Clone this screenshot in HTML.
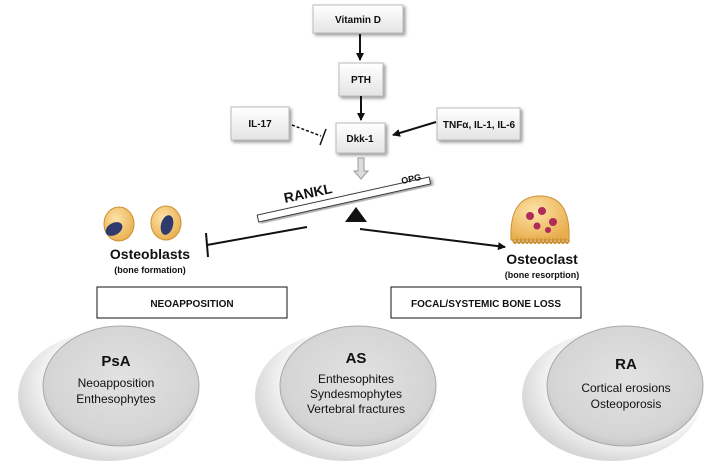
<!DOCTYPE html>
<html><head><meta charset="utf-8"><style>
html,body{margin:0;padding:0;background:#fff;}
svg{display:block;font-family:"Liberation Sans",sans-serif;}
</style></head><body>
<svg width="708" height="464" viewBox="0 0 708 464" xmlns="http://www.w3.org/2000/svg">
<defs>
<linearGradient id="bx" x1="0" y1="0" x2="0" y2="1"><stop offset="0" stop-color="#fff"/><stop offset="1" stop-color="#e4e4e4"/></linearGradient>
<radialGradient id="disc" cx="0.5" cy="0.45" r="0.6"><stop offset="0" stop-color="#e2e2e2"/><stop offset="0.8" stop-color="#d4d4d4"/><stop offset="1" stop-color="#bdbdbd"/></radialGradient>
<radialGradient id="rim" cx="0.6" cy="0.4" r="0.7"><stop offset="0.6" stop-color="#fafafa"/><stop offset="1" stop-color="#c8c8c8"/></radialGradient>
<radialGradient id="cell" cx="0.4" cy="0.35" r="0.7"><stop offset="0" stop-color="#fde3a8"/><stop offset="1" stop-color="#e9ad4c"/></radialGradient>
<marker id="ah" markerWidth="8" markerHeight="8" refX="7" refY="4" orient="auto" markerUnits="userSpaceOnUse"><path d="M0,0 L8,4 L0,8 Z" fill="#111"/></marker>
<filter id="sh" x="-20%" y="-20%" width="150%" height="150%"><feDropShadow dx="2" dy="2" stdDeviation="1.5" flood-color="#999"/></filter>
</defs>
<g font-weight="bold" font-size="10" text-anchor="middle" fill="#111">
<rect x="313" y="5" width="90" height="28" fill="url(#bx)" stroke="#bbb" filter="url(#sh)"/><text x="358" y="23">Vitamin D</text>
<rect x="339" y="63" width="44" height="33" fill="url(#bx)" stroke="#bbb" filter="url(#sh)"/><text x="361" y="83">PTH</text>
<rect x="336" y="123" width="49" height="30" fill="url(#bx)" stroke="#bbb" filter="url(#sh)"/><text x="360" y="142">Dkk-1</text>
<rect x="231" y="107" width="58" height="33" fill="url(#bx)" stroke="#bbb" filter="url(#sh)"/><text x="260" y="127">IL-17</text>
<rect x="437" y="108" width="83" height="32" fill="url(#bx)" stroke="#bbb" filter="url(#sh)"/><text x="479" y="128">TNFα, IL-1, IL-6</text>
</g>
<g stroke="#111" stroke-width="2" fill="none">
<line x1="360" y1="34" x2="360" y2="60" marker-end="url(#ah)"/>
<line x1="361" y1="96" x2="361" y2="120" marker-end="url(#ah)"/>
<line x1="292" y1="125" x2="321" y2="136" stroke-dasharray="3,2" stroke-width="1.5"/>
<line x1="326" y1="129" x2="320" y2="145" stroke-width="1.5"/>
<line x1="436" y1="122" x2="393" y2="135" marker-end="url(#ah)"/>
<line x1="307" y1="227" x2="207" y2="245"/>
<line x1="206" y1="233" x2="208" y2="257"/>
<line x1="360" y1="229" x2="505" y2="247" marker-end="url(#ah)"/>
</g>
<path d="M358,158 v13 h-4 l7,8 l7,-8 h-4 v-13 z" fill="#ddd" stroke="#999"/>
<g transform="rotate(-12.5 344 200)"><rect x="256" y="196" width="176" height="7" fill="#fff" stroke="#333" filter="url(#sh)"/></g>
<text x="285" y="203" font-size="14" font-weight="bold" transform="rotate(-12 285 203)" fill="#111">RANKL</text>
<text x="402" y="184" font-size="9" font-weight="bold" transform="rotate(-12 402 184)" fill="#111">OPG</text>
<path d="M356,207 L367,222 L345,222 Z" fill="#111"/>
<ellipse cx="119" cy="224" rx="15" ry="17" fill="url(#cell)" stroke="#c99036"/>
<ellipse cx="114" cy="229" rx="9" ry="6" fill="#2e3a6e" transform="rotate(-30 114 229)"/>
<ellipse cx="166" cy="223" rx="15" ry="17" fill="url(#cell)" stroke="#c99036"/>
<ellipse cx="167" cy="225" rx="6" ry="10" fill="#2e3a6e" transform="rotate(15 167 225)"/>
<text x="150" y="259" font-size="14" font-weight="bold" text-anchor="middle" fill="#111">Osteoblasts</text>
<text x="150" y="273" font-size="9" font-weight="bold" text-anchor="middle" fill="#111">(bone formation)</text>
<path d="M511,240 Q509,196 540,196 Q571,196 569,240 Z" fill="url(#cell)" stroke="#c99036"/>
<path d="M513,240 q2,6 4,0 q2,6 4,0 q2,6 4,0 q2,6 4,0 q2,6 4,0 q2,6 4,0 q2,6 4,0 q2,6 4,0 q2,6 4,0 q2,6 4,0 q2,6 4,0 q2,6 4,0 q2,6 4,0 q2,6 4,0" fill="none" stroke="#c99036" stroke-width="2"/>
<circle cx="530" cy="216" r="4" fill="#b02a5a"/><circle cx="542" cy="211" r="4" fill="#b02a5a"/><circle cx="553" cy="222" r="4" fill="#b02a5a"/><circle cx="537" cy="226" r="3.5" fill="#b02a5a"/><circle cx="548" cy="230" r="3" fill="#b02a5a"/>
<text x="542" y="264" font-size="14" font-weight="bold" text-anchor="middle" fill="#111">Osteoclast</text>
<text x="542" y="278" font-size="9" font-weight="bold" text-anchor="middle" fill="#111">(bone resorption)</text>
<rect x="97" y="287" width="190" height="31" fill="#fff" stroke="#111"/>
<text x="192" y="307" font-size="10" font-weight="bold" text-anchor="middle" fill="#111">NEOAPPOSITION</text>
<rect x="391" y="287" width="190" height="31" fill="#fff" stroke="#111"/>
<text x="486" y="307" font-size="10" font-weight="bold" text-anchor="middle" fill="#111">FOCAL/SYSTEMIC BONE LOSS</text>
<g font-size="12" text-anchor="middle" fill="#111">
<ellipse cx="108" cy="396" rx="90" ry="65" fill="url(#rim)"/>
<ellipse cx="121" cy="386" rx="78" ry="60" fill="url(#disc)" stroke="#aaa"/>
<text x="116" y="366" font-size="15" font-weight="bold">PsA</text><text x="116" y="387">Neoapposition</text><text x="116" y="403">Enthesophytes</text>
<ellipse cx="345" cy="396" rx="90" ry="65" fill="url(#rim)"/>
<ellipse cx="358" cy="386" rx="78" ry="60" fill="url(#disc)" stroke="#aaa"/>
<text x="356" y="363" font-size="15" font-weight="bold">AS</text><text x="356" y="383">Enthesophites</text><text x="356" y="398">Syndesmophytes</text><text x="356" y="413">Vertebral fractures</text>
<ellipse cx="612" cy="396" rx="90" ry="65" fill="url(#rim)"/>
<ellipse cx="625" cy="386" rx="78" ry="60" fill="url(#disc)" stroke="#aaa"/>
<text x="626" y="369" font-size="15" font-weight="bold">RA</text><text x="626" y="392">Cortical erosions</text><text x="626" y="408">Osteoporosis</text>
</g>
</svg>
</body></html>
